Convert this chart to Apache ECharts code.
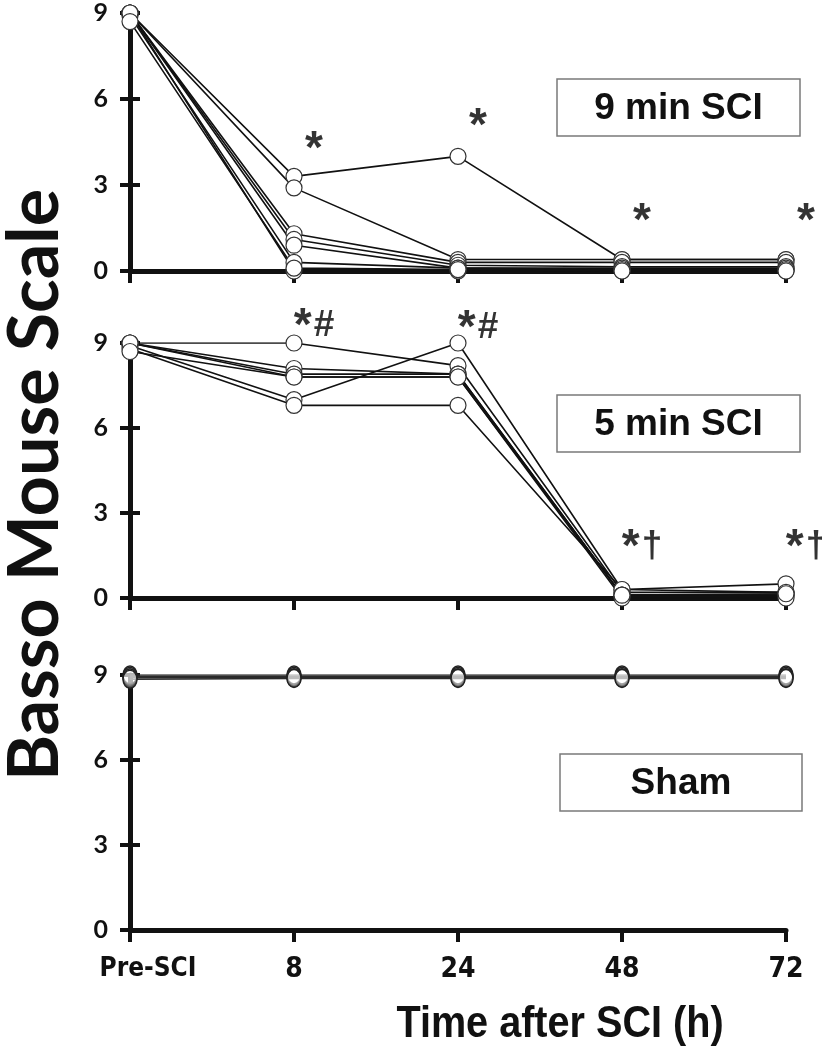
<!DOCTYPE html>
<html>
<head>
<meta charset="utf-8">
<script src="https://cdn.jsdelivr.net/npm/echarts@6/dist/echarts.min.js"></script>
<style>
html,body{margin:0;padding:0;background:#fff;}
#c{width:822px;height:1050px;}
</style>
</head>
<body>
<div id="c"></div>
<script>
// ---------- data ----------
const categories = ['Pre-SCI', '8', '24', '48', '72'];
const yTicks = [0, 3, 6, 9];

// 9 min SCI: one row per mouse (values at Pre-SCI, 8, 24, 48, 72 h)
const sci9Mice = [
  [9.0, 3.3, 4.0, 0.4, 0.4],
  [9.0, 2.9, 0.4, 0.4, 0.4],
  [9.0, 1.3, 0.3, 0.3, 0.3],
  [9.0, 1.1, 0.2, 0.15, 0.15],
  [9.0, 0.9, 0.1, 0.1, 0.1],
  [8.9, 0.3, 0.1, 0.05, 0.05],
  [9.0, 0.0, 0.0, 0.0, 0.0],
  [8.7, 0.1, 0.05, 0.0, 0.0]
];
// 5 min SCI
const sci5Mice = [
  [9.0, 9.0, 8.2, 0.2, 0.2],
  [8.9, 7.0, 9.0, 0.3, 0.5],
  [8.8, 6.8, 6.8, 0.3, 0.2],
  [9.0, 8.1, 7.9, 0.1, 0.1],
  [9.0, 7.9, 7.9, 0.1, 0.1],
  [9.0, 7.8, 7.8, 0.0, 0.0],
  [8.7, 7.8, 7.8, 0.1, 0.15]
];
// Sham
const shamMice = [
  [9.0, 9.0, 9.0, 9.0, 9.0],
  [8.95, 8.95, 8.95, 8.95, 8.95],
  [8.9, 8.9, 8.9, 8.9, 8.9],
  [8.85, 8.88, 8.88, 8.88, 8.88]
];

// significance marks
const sci9MarkX = ['8', '24', '48', '72'];
const sci9MarkY = [4.3, 5.1, 1.8, 1.8];
const sci9MarkText = ['*', '*', '*', '*'];
const sci5MarkX = ['8', '24', '48', '72'];
const sci5MarkY = [9.65, 9.6, 1.85, 1.85];
const sci5MarkText = ['*#', '*#', '*\u2020', '*\u2020'];

const panelNames = ['9 min SCI', '5 min SCI', 'Sham'];

// ---------- layout ----------
const grids = [
  { left: 130, right: 36, top: 13, height: 258 },
  { left: 130, right: 36, top: 343, height: 255 },
  { left: 130, right: 36, top: 675, height: 255 }
];
const boxes = [
  { x: 557, y: 79, w: 243, h: 57 },
  { x: 557, y: 395, w: 243, h: 57 },
  { x: 560, y: 754, w: 242, h: 57 }
];
const AX = '#111';
const NARROW = '"Liberation Sans Narrow", "DejaVu Sans Condensed", sans-serif';

const xAxes = grids.map((g, i) => ({
  type: 'category', gridIndex: i, data: categories, boundaryGap: false,
  axisLine: { show: true, lineStyle: { color: AX, width: 5 } },
  axisTick: { show: true, alignWithLabel: true, length: 12, lineStyle: { color: AX, width: 4 } },
  axisLabel: i === 2 ? {
    show: true, margin: 26,
    formatter: (v, idx) => idx === 0 ? '{pre|' + v + '}' : '{n|' + v + '}',
    rich: {
      pre: { fontFamily: NARROW, fontWeight: 'bold', fontSize: 26, color: AX, padding: [0, 0, 0, 36] },
      n: { fontFamily: NARROW, fontWeight: 'bold', fontSize: 28, color: AX }
    }
  } : { show: false },
  splitLine: { show: false },
  z: 1
}));

const yAxes = [];
grids.forEach((g, i) => {
  yAxes.push({
    type: 'value', gridIndex: i, min: 0, max: 9, interval: 3,
    axisLine: { show: true, lineStyle: { color: AX, width: 5 } },
    axisTick: { show: true, length: 10, lineStyle: { color: AX, width: 4 } },
    axisLabel: { show: true, margin: 22, fontFamily: 'Lato, sans-serif', fontWeight: 'bold', fontSize: 25, color: AX,
      formatter: v => yTicks.includes(v) ? String(v) : '' },
    splitLine: { show: false }
  });
  yAxes.push({
    type: 'value', gridIndex: i, min: 0, max: 9, interval: 3, position: 'left',
    axisLine: { show: false },
    axisTick: { show: true, inside: true, length: 10, lineStyle: { color: AX, width: 4 } },
    axisLabel: { show: false },
    splitLine: { show: false }
  });
});

const series = [];
function addMice(mice, gi, opts) {
  mice.forEach((vals) => {
    series.push({
      type: 'line', xAxisIndex: gi, yAxisIndex: gi * 2,
      data: vals.map((v, j) => [categories[j], v]),
      symbol: 'circle', symbolSize: opts.size,
      showAllSymbol: true,
      lineStyle: { color: opts.line, width: opts.lw },
      itemStyle: { color: opts.fill, borderColor: opts.border, borderWidth: opts.bw },
      emphasis: { disabled: true },
      animation: false, z: 3
    });
  });
}
addMice(sci9Mice, 0, { size: 16, line: '#111', lw: 1.6, fill: '#fff', border: '#333', bw: 1.2 });
addMice(sci5Mice, 1, { size: 16, line: '#111', lw: 1.6, fill: '#fff', border: '#333', bw: 1.2 });
addMice(shamMice, 2, { size: [14, 18], line: '#2a2a2a', lw: 1.5, fill: 'rgba(255,255,255,0.25)', border: '#222', bw: 1.5 });

function addMarks(xs, ys, texts, gi) {
  series.push({
    type: 'scatter', xAxisIndex: gi, yAxisIndex: gi * 2, clip: false,
    symbolSize: 1, itemStyle: { color: 'rgba(0,0,0,0)' },
    data: xs.map((x, j) => ({ value: [x, ys[j]], name: texts[j] })),
    label: {
      show: true, position: 'inside', offset: [20, 0],
      formatter: p => '{a|' + p.name.charAt(0) + '}' + (p.name.length > 1 ? '{b|' + p.name.slice(1) + '}' : ''),
      textBorderWidth: 0,
      rich: {
        a: { fontFamily: '"Liberation Sans", Arial, sans-serif', fontWeight: 'bold', fontSize: 46, color: '#000', textBorderWidth: 0, verticalAlign: 'top', lineHeight: 40 },
        b: { fontFamily: '"Liberation Sans", Arial, sans-serif', fontWeight: 'bold', fontSize: 37, color: '#000', textBorderWidth: 0, verticalAlign: 'bottom', lineHeight: 40, padding: [0, 0, 0, 2] }
      }
    },
    emphasis: { disabled: true }, silent: true, animation: false, z: 5
  });
}
addMarks(sci9MarkX, sci9MarkY, sci9MarkText, 0);
addMarks(sci5MarkX, sci5MarkY, sci5MarkText, 1);

const graphic = [];
boxes.forEach((b, i) => {
  graphic.push({
    type: 'rect', shape: { x: b.x, y: b.y, width: b.w, height: b.h },
    style: { fill: '#fff', stroke: '#7a7a7a', lineWidth: 1.5 }, z: 10
  });
  graphic.push({
    type: 'text', x: b.x + b.w / 2, y: b.y + b.h / 2 + 1,
    style: { text: panelNames[i], fill: '#111', font: 'bold 37px "Liberation Sans", Arial, sans-serif', textAlign: 'center', textVerticalAlign: 'middle' }, z: 11
  });
});
graphic.push({
  type: 'text', x: 35, y: 485, rotation: Math.PI / 2,
  style: { text: 'Basso Mouse Scale', fill: '#111', font: 'bold 70px Lato, sans-serif', textAlign: 'center', textVerticalAlign: 'middle' }
});
graphic.push({
  type: 'text', x: 560, y: 1025, scaleX: 0.9,
  style: { text: 'Time after SCI (h)', fill: '#111', font: 'bold 44px "Liberation Sans", Arial, sans-serif', textAlign: 'center', textVerticalAlign: 'middle' }
});

const chart = echarts.init(document.getElementById('c'), null, { renderer: 'canvas' });
chart.setOption({
  backgroundColor: '#fff',
  animation: false,
  grid: grids,
  xAxis: xAxes,
  yAxis: yAxes,
  series: series,
  graphic: graphic
});
</script>
</body>
</html>
